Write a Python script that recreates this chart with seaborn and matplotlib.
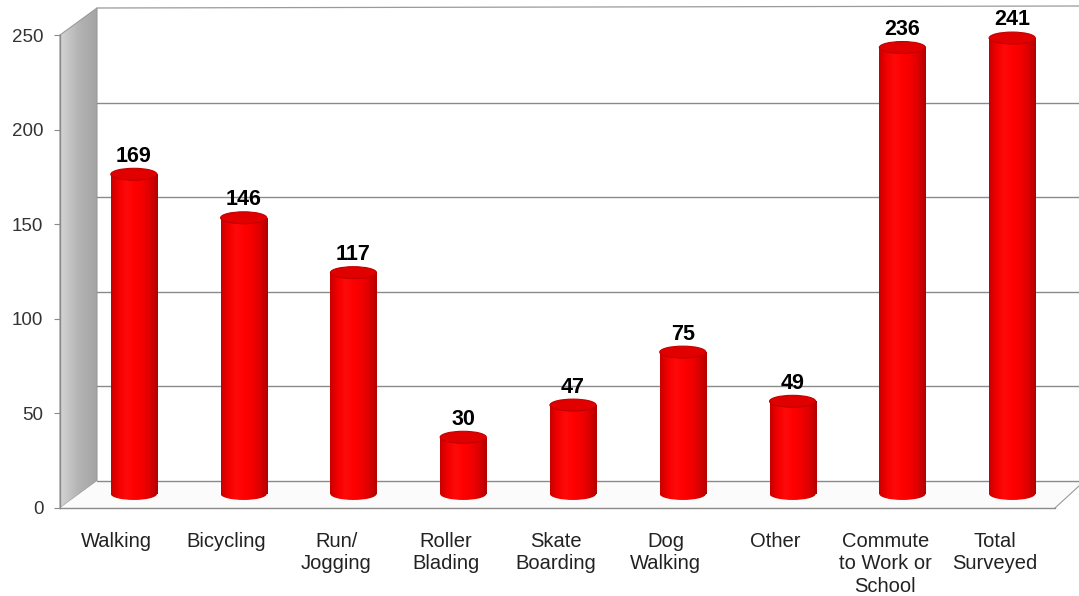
import numpy as np
import pandas as pd
import matplotlib
matplotlib.use("Agg")
import matplotlib.pyplot as plt
import matplotlib.transforms as mtransforms
from matplotlib.colors import LinearSegmentedColormap
from matplotlib.patches import Polygon, Ellipse, Rectangle
import seaborn as sns

activities = ["Walking", "Bicycling", "Run/\nJogging", "Roller\nBlading", "Skate\nBoarding",
              "Dog\nWalking", "Other", "Commute\nto Work or\nSchool", "Total\nSurveyed"]
counts = [169, 146, 117, 30, 47, 75, 49, 236, 241]
yticks = [0, 50, 100, 150, 200, 250]

df = pd.DataFrame({"activity": activities, "count": counts})

sns.set_style("white")
plt.rcParams["font.family"] = ["Liberation Sans", "DejaVu Sans"]

W, H = 1079, 596
fig = plt.figure(figsize=(W / 100, H / 100), dpi=100)


def px_box(x0, y0, x1, y1):
    # pixel box (origin top-left) -> figure fraction
    return [x0 / W, 1 - y1 / H, (x1 - x0) / W, (y1 - y0) / H]


# background layer in pixel coords: side wall + floor of the 3d frame
bg = fig.add_axes([0, 0, 1, 1], zorder=0)
bg.set_xlim(0, W)
bg.set_ylim(H, 0)
bg.axis("off")

wall = Polygon([(60, 35), (97, 8), (97, 481), (60, 508)], closed=True,
               facecolor="none", edgecolor="#9a9a9a", lw=0.8)
bg.add_patch(wall)
wall_grad = np.linspace(0, 1, 64).reshape(1, -1)
im = bg.imshow(wall_grad, extent=[60, 97, 508, 8], aspect="auto",
               cmap=LinearSegmentedColormap.from_list("w", ["#d4d4d4", "#b4b4b4", "#a4a4a4"]))
im.set_clip_path(wall)
bg.set_xlim(0, W)
bg.set_ylim(H, 0)

floor = Polygon([(60, 508), (97, 481), (1079, 481), (1079, 486), (1055, 508)], closed=True,
                facecolor="#fbfbfb", edgecolor="none")
bg.add_patch(floor)
bg.plot([1055, 1079], [508, 486], color="#9a9a9a", lw=0.8)
bg.plot([97, 1079], [8, 6], color="#9a9a9a", lw=0.9)

# front axes: holds the ticks, the labels and the back wall gridlines
ax = fig.add_axes(px_box(60, 35, 1055, 508), zorder=1)
ax.patch.set_alpha(0)
ax.set_ylim(0, 250)
ax.set_xlim(-0.518, 8.545)

back = ax.transData + mtransforms.ScaledTranslation(37 / 100, 27 / 100, fig.dpi_scale_trans)
for v in yticks[:-1]:
    ax.plot([-0.518, 8.43], [v, v], transform=back, color="#8a8a8a", lw=1.0, clip_on=False)

ax.set_yticks(yticks)
ax.set_yticklabels([str(v) for v in yticks])
ax.set_xticks(range(len(activities)))
ax.set_xticklabels(activities, linespacing=1.25)
ax.set_xticks(np.arange(-0.5, len(activities), 1.0), minor=True)
ax.tick_params(axis="x", which="major", length=0, pad=17, labelsize=14.5, labelcolor="#222222")
ax.tick_params(axis="x", which="minor", length=5, color="#8a8a8a", direction="out")
ax.tick_params(axis="y", length=4, pad=8, labelsize=13.5, labelcolor="#333333",
               color="#8a8a8a", direction="out", left=True)
for s in ["top", "right"]:
    ax.spines[s].set_visible(False)
for s in ["left", "bottom"]:
    ax.spines[s].set_color("#8a8a8a")
    ax.spines[s].set_linewidth(1.0)

# bars live one depth step behind the front plane (box reaches a bit below 0
# so the rounded cylinder bottoms are not clipped)
cap_h = 6.3
axb = fig.add_axes(px_box(77, 21, 1072, 506), zorder=2)
sns.barplot(data=df, x="activity", y="count", ax=axb, width=0.42, color="red")
axb.axis("off")
axb.patch.set_alpha(0)

cyl = LinearSegmentedColormap.from_list(
    "cyl", ["#c80000", "#f40000", "#ff0a0a", "#ff0000", "#f40000", "#dc0000", "#b40000"])
grad = np.linspace(0, 1, 128).reshape(1, -1)

for bar, val in zip(list(axb.patches), counts):
    x, w, h = bar.get_x(), bar.get_width(), bar.get_height()
    xc = x + w / 2
    bar.set_visible(False)
    base = Ellipse((xc, 0), w, cap_h, facecolor="none", edgecolor="none")
    body = Rectangle((x, 0), w, h, facecolor="none", edgecolor="none")
    axb.add_patch(base)
    axb.add_patch(body)
    for clip in (base, body):
        img = axb.imshow(grad, extent=[x, x + w, -cap_h, h], aspect="auto", cmap=cyl,
                         zorder=2, interpolation="bilinear")
        img.set_clip_path(clip)
    axb.add_patch(Ellipse((xc, h), w, cap_h, facecolor="#e00000", edgecolor="#c00000",
                          lw=0.8, zorder=3))
    axb.text(xc, h + 4, str(val), ha="center", va="bottom", fontsize=15.5,
             fontweight="bold", color="black", zorder=4)

axb.set_ylim(-12 / 1.892, 250)
axb.set_xlim(-0.518, 8.545)

fig.savefig("out.png", dpi=100)
